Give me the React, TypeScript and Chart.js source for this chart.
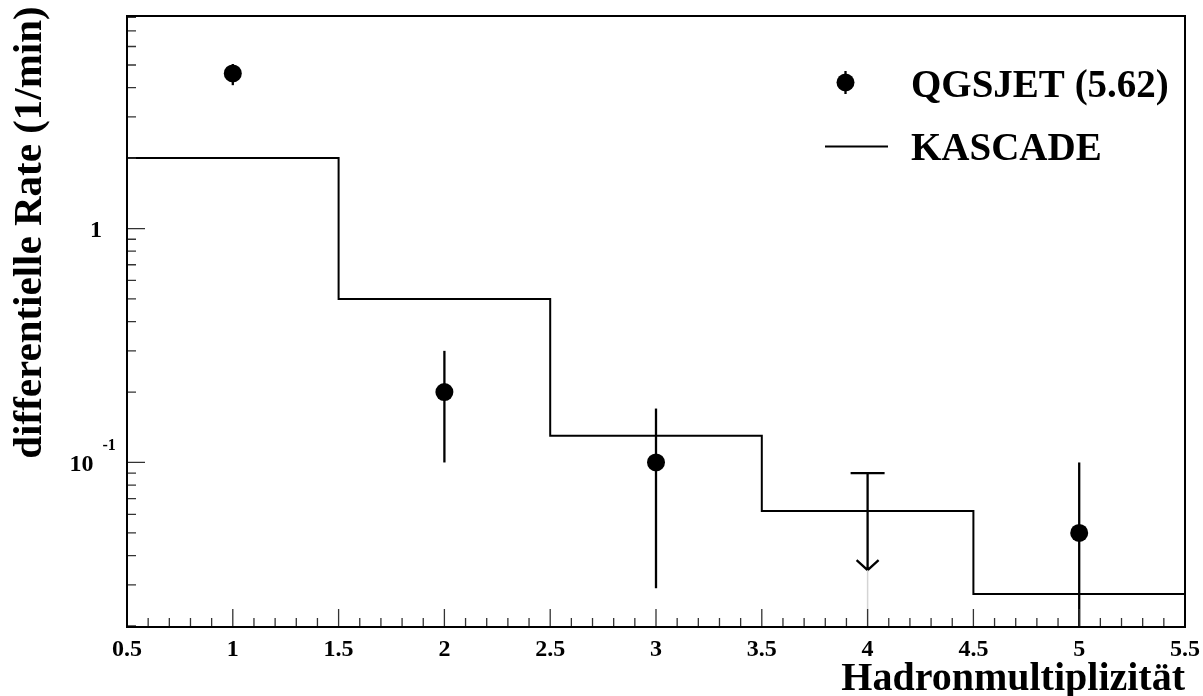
import React, { useEffect, useRef } from "react";
import { Chart, registerables } from "chart.js";

Chart.register(...registerables);

// ---------- data ----------
const multiplicity = [1, 2, 3, 4, 5];
const qgsjetRate: (number | null)[] = [4.6, 0.2, 0.1, null, 0.05];
const qgsjetLow: (number | null)[] = [4.1, 0.1, 0.029, null, 0];
const qgsjetHigh = [5.05, 0.3, 0.17, 0.09, 0.1];
const qgsjetUpperLimit = [false, false, false, true, false];

const kascadeEdges = [0.5, 1.5, 2.5, 3.5, 4.5, 5.5];
const kascadeRate = [2.0, 0.5, 0.13, 0.062, 0.0274];

const xMajorTicks = [0.5, 1, 1.5, 2, 2.5, 3, 3.5, 4, 4.5, 5, 5.5];
const xTickLabels = ["0.5", "1", "1.5", "2", "2.5", "3", "3.5", "4", "4.5", "5", "5.5"];
const yMajorTicks = [1, 0.1];
const yTickBase = ["1", "10"];
const yTickExp = ["", "-1"];

const seriesLabels = ["QGSJET (5.62)", "KASCADE"];
const xTitle = "Hadronmultiplizität";
const yTitle = "differentielle Rate (1/min)";

const X_MIN = 0.5;
const X_MAX = 5.5;
const Y_MIN = 0.0198;
const Y_MAX = 8.1;

const FONT = "'Liberation Serif', 'Times New Roman', serif";

const rootStyle = {
  id: "rootStyle",
  beforeDatasetsDraw(chart: any) {
    const ctx = chart.ctx;
    const xs = chart.scales.x;
    const ys = chart.scales.y;
    const { left, right, top, bottom } = chart.chartArea;
    ctx.save();
    ctx.beginPath();
    ctx.rect(left, top, right - left, bottom - top);
    ctx.clip();
    ctx.strokeStyle = "#000";
    ctx.lineWidth = 2.3;
    multiplicity.forEach((m, i) => {
      const px = xs.getPixelForValue(m);
      const hi = ys.getPixelForValue(qgsjetHigh[i]);
      if (qgsjetUpperLimit[i]) {
        const tip = hi + 97;
        ctx.beginPath();
        ctx.moveTo(px, hi);
        ctx.lineTo(px, tip);
        ctx.moveTo(px - 17, hi);
        ctx.lineTo(px + 17, hi);
        ctx.moveTo(px - 11, tip - 10);
        ctx.lineTo(px, tip);
        ctx.lineTo(px + 11, tip - 10);
        ctx.stroke();
        ctx.save();
        ctx.strokeStyle = "#d4d4d4";
        ctx.lineWidth = 1.5;
        ctx.beginPath();
        ctx.moveTo(px, tip);
        ctx.lineTo(px, bottom);
        ctx.stroke();
        ctx.restore();
      } else {
        const lowV = qgsjetLow[i] as number;
        const lo = lowV > 0 ? ys.getPixelForValue(lowV) : bottom;
        ctx.beginPath();
        ctx.moveTo(px, hi);
        ctx.lineTo(px, lo);
        ctx.stroke();
      }
    });
    ctx.restore();
  },
  afterDraw(chart: any) {
    const ctx = chart.ctx;
    const xs = chart.scales.x;
    const ys = chart.scales.y;
    const { left, right, top, bottom } = chart.chartArea;
    ctx.save();

    // ticks (inward, bottom & left)
    ctx.strokeStyle = "#333";
    ctx.lineWidth = 1.3;
    ctx.beginPath();
    for (let k = 0; k <= 50; k++) {
      const v = X_MIN + k * 0.1;
      const px = xs.getPixelForValue(v);
      const len = k % 5 === 0 ? 18 : 9;
      ctx.moveTo(px, bottom);
      ctx.lineTo(px, bottom - len);
    }
    for (let d = -2; d <= 0; d++) {
      for (let m = 1; m <= 9; m++) {
        const v = m * Math.pow(10, d);
        if (v < Y_MIN || v > Y_MAX) continue;
        const py = ys.getPixelForValue(v);
        const len = m === 1 ? 18 : 9;
        ctx.moveTo(left, py);
        ctx.lineTo(left + len, py);
      }
    }
    ctx.stroke();

    // frame
    ctx.strokeStyle = "#000";
    ctx.lineWidth = 2;
    ctx.strokeRect(left, top, right - left, bottom - top);

    // x tick labels
    ctx.fillStyle = "#000";
    ctx.font = `bold 24px ${FONT}`;
    ctx.textAlign = "center";
    ctx.textBaseline = "alphabetic";
    xMajorTicks.forEach((v, i) => {
      ctx.fillText(xTickLabels[i], xs.getPixelForValue(v), bottom + 29);
    });

    // y tick labels
    yMajorTicks.forEach((v, i) => {
      const py = ys.getPixelForValue(v);
      if (yTickExp[i]) {
        ctx.font = `bold 24px ${FONT}`;
        ctx.textAlign = "right";
        ctx.fillText(yTickBase[i], 93.5, py + 9);
        ctx.font = `bold 16px ${FONT}`;
        ctx.textAlign = "left";
        ctx.fillText(yTickExp[i], 102.5, py - 12);
      } else {
        ctx.font = `bold 24px ${FONT}`;
        ctx.textAlign = "right";
        ctx.fillText(yTickBase[i], 102, py + 8.5);
      }
    });

    // axis titles
    ctx.font = `bold 40px ${FONT}`;
    ctx.textAlign = "right";
    ctx.fillText(xTitle, right, 690);
    ctx.save();
    ctx.translate(41, 232.5);
    ctx.rotate(-Math.PI / 2);
    ctx.font = `bold 41px ${FONT}`;
    ctx.textAlign = "center";
    ctx.fillText(yTitle, 0, 0);
    ctx.restore();

    // legend
    const lx = 845.5;
    const ly1 = 82.5;
    const ly2 = 146.5;
    ctx.beginPath();
    ctx.arc(lx, ly1, 9, 0, Math.PI * 2);
    ctx.fill();
    ctx.lineWidth = 2.3;
    ctx.beginPath();
    ctx.moveTo(lx, ly1 - 11.5);
    ctx.lineTo(lx, ly1 + 11.5);
    ctx.stroke();
    ctx.lineWidth = 2;
    ctx.beginPath();
    ctx.moveTo(825, ly2);
    ctx.lineTo(888, ly2);
    ctx.stroke();
    ctx.font = `bold 39px ${FONT}`;
    ctx.textAlign = "left";
    ctx.fillText(chart.data.datasets[0].label, 911, 96.5);
    ctx.fillText(chart.data.datasets[1].label, 911, 160);

    ctx.restore();
  },
};

export default function App() {
  const ref = useRef<HTMLCanvasElement>(null);
  useEffect(() => {
    const pointData = multiplicity
      .map((m, i) => ({ x: m, y: qgsjetRate[i] }))
      .filter((p) => p.y !== null) as { x: number; y: number }[];
    const histData = kascadeEdges.map((e, i) => ({
      x: e,
      y: kascadeRate[Math.min(i, kascadeRate.length - 1)],
    }));
    const chart = new Chart(ref.current as HTMLCanvasElement, {
      type: "scatter",
      data: {
        datasets: [
          {
            label: seriesLabels[0],
            type: "scatter",
            data: pointData,
            pointRadius: 9,
            pointBackgroundColor: "#000",
            pointBorderColor: "#000",
            pointBorderWidth: 0,
            showLine: false,
          } as any,
          {
            label: seriesLabels[1],
            type: "line",
            data: histData,
            stepped: true,
            borderColor: "#000",
            borderWidth: 2,
            pointRadius: 0,
            fill: false,
            tension: 0,
          } as any,
        ],
      },
      options: {
        animation: false,
        responsive: false,
        events: [],
        layout: { padding: { left: 127, right: 18, top: 16, bottom: 69 } },
        plugins: { legend: { display: false }, tooltip: { enabled: false } },
        scales: {
          x: { type: "linear", min: X_MIN, max: X_MAX, display: false },
          y: { type: "logarithmic", min: Y_MIN, max: Y_MAX, display: false },
        },
      },
      plugins: [rootStyle],
    });
    return () => chart.destroy();
  }, []);
  return (
    <div style={{ position: "fixed", left: 0, top: 0, width: 1203, height: 696, background: "#fff" }}>
      <canvas ref={ref} width={1203} height={696} style={{ width: 1203, height: 696, display: "block" }} />
    </div>
  );
}
